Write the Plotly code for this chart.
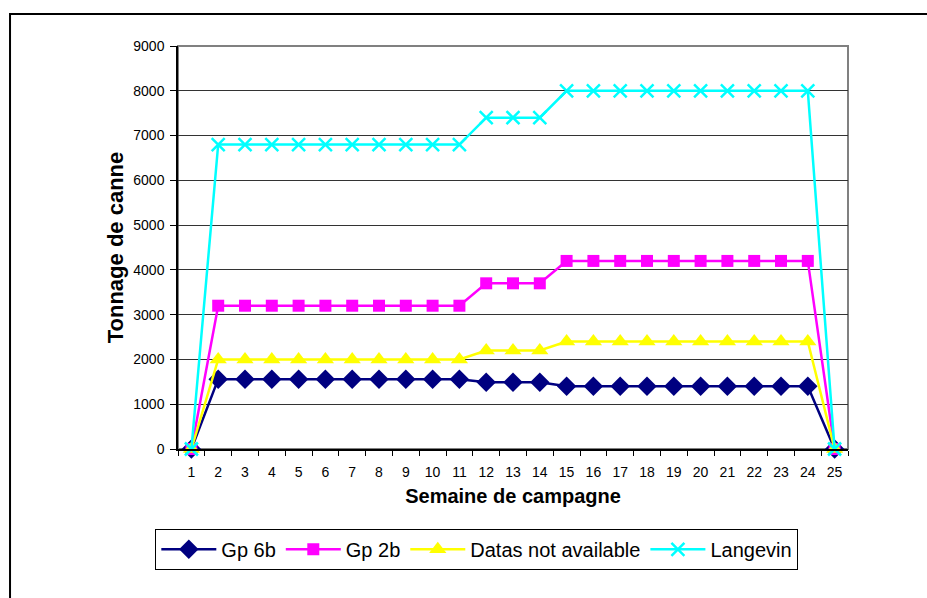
import plotly.graph_objects as go

# weeks of the campaign
weeks = [str(i) for i in range(1, 26)]

gp6b = [0] + [1560] * 10 + [1490] * 3 + [1400] * 10 + [0]
gp2b = [0] + [3200] * 10 + [3700] * 3 + [4200] * 10 + [0]
datas_na = [0] + [2000] * 10 + [2200] * 3 + [2400] * 10 + [0]
langevin = [0] + [6800] * 10 + [7400] * 3 + [8000] * 10 + [0]

series = [
    ("Gp 6b", gp6b, "#000080", "diamond", 15),
    ("Gp 2b", gp2b, "#FF00FF", "square", 12),
    ("Datas not available", datas_na, "#FFFF00", "triangle-up", 15),
    ("Langevin", langevin, "#00FFFF", "x-thin-open", 13),
]

fig = go.Figure()
for name, vals, col, sym, sz in series:
    fig.add_trace(go.Scatter(
        x=weeks, y=vals, name=name, mode="lines+markers",
        line=dict(color=col, width=2.5),
        marker=dict(symbol=sym, size=sz, color=col,
                    line=dict(color=col, width=2.5 if sym == "x-thin-open" else 0)),
        cliponaxis=False,
    ))

# outer chart border (runs off the bottom/right of the picture)
fig.add_shape(type="rect", xref="paper", yref="paper",
              x0=-0.2507, y0=-0.5, x1=1.3, y1=1.0794,
              line=dict(color="black", width=2), layer="below")
# plot area box (grey top/right)
fig.add_shape(type="rect", xref="paper", yref="paper",
              x0=0, y0=0, x1=1, y1=1,
              line=dict(color="#808080", width=2), layer="below")

fig.update_layout(
    width=927, height=598,
    margin=dict(l=178, r=79, t=46, b=149),
    paper_bgcolor="white", plot_bgcolor="white",
    font=dict(family="Liberation Sans, Arial", color="black", size=14),
    xaxis=dict(
        type="category", tickson="boundaries", ticks="outside", ticklen=5,
        tickcolor="black", showgrid=False, showline=True, linecolor="black",
        linewidth=1.5, tickfont=dict(size=14), ticklabelstandoff=9,
        title=dict(text="<b>Semaine de campagne</b>", font=dict(size=20), standoff=10),
        range=[-0.5, 24.5],
    ),
    yaxis=dict(
        range=[0, 9000], dtick=1000, ticks="outside", ticklen=6,
        tickcolor="black", showgrid=True, gridcolor="#333333", gridwidth=1,
        showline=True, linecolor="black", linewidth=1.5, zeroline=False,
        tickfont=dict(size=14), ticklabelstandoff=3,
        title=dict(text="<b>Tonnage de canne</b>", font=dict(size=22), standoff=4),
    ),
    legend=dict(
        orientation="h", x=0.446, xanchor="center", y=-0.198, yanchor="top",
        bordercolor="black", borderwidth=1, font=dict(size=20),
        itemwidth=55, tracegroupgap=0,
    ),
)

fig.write_html("out.html", config={"displayModeBar": False},
               post_script="document.body.style.margin='0';")
